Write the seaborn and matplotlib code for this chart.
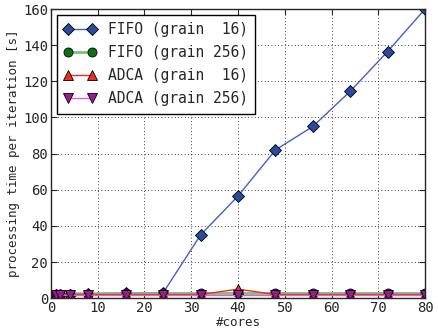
import numpy as np
import pandas as pd
import matplotlib
matplotlib.use("Agg")
import matplotlib.pyplot as plt
import seaborn as sns

cores = [1, 2, 4, 8, 16, 24, 32, 40, 48, 56, 64, 72, 80]
fifo_16 = [2.0, 2.0, 2.0, 2.2, 3.0, 3.0, 35.0, 56.5, 82.0, 95.0, 114.5, 136.5, 160.0]
fifo_256 = [2.5, 2.5, 2.5, 2.5, 2.6, 2.6, 2.6, 2.6, 2.6, 2.6, 2.6, 2.6, 2.6]
adca_16 = [2.0, 2.0, 2.0, 2.0, 2.0, 2.0, 2.0, 5.0, 2.0, 2.0, 2.0, 2.0, 2.0]
adca_256 = [1.8, 1.8, 1.8, 1.8, 1.8, 1.8, 1.8, 1.8, 1.8, 1.8, 1.8, 1.8, 1.8]

series = {
    "FIFO (grain  16)": fifo_16,
    "FIFO (grain 256)": fifo_256,
    "ADCA (grain  16)": adca_16,
    "ADCA (grain 256)": adca_256,
}
rows = []
for name, vals in series.items():
    for c, v in zip(cores, vals):
        rows.append({"cores": c, "time": v, "series": name})
df = pd.DataFrame(rows)

sns.set_style("ticks")
plt.rcParams["font.family"] = ["DejaVu Sans Mono"]
plt.rcParams["xtick.direction"] = "in"
plt.rcParams["ytick.direction"] = "in"

styles = {
    "FIFO (grain  16)": dict(color="#4060c8", marker="D", mfc="#2a4a9c", ms=6.5, lw=1.0),
    "FIFO (grain 256)": dict(color="#80c080", marker="o", mfc="#107010", ms=6.5, lw=2.0),
    "ADCA (grain  16)": dict(color="#e83020", marker="^", mfc="#e83020", ms=7, lw=1.0),
    "ADCA (grain 256)": dict(color="#e060d0", marker="v", mfc="#9a1a9a", ms=7, lw=1.0),
}

fig = plt.figure(figsize=(4.38, 3.35), dpi=100)
ax = fig.add_axes([0.1164, 0.110, 0.854, 0.863])

for name in series:
    st = styles[name]
    sns.lineplot(data=df[df["series"] == name], x="cores", y="time", ax=ax,
                 color=st["color"], marker=st["marker"], markerfacecolor=st["mfc"],
                 markeredgecolor="black", markeredgewidth=0.6, markersize=st["ms"],
                 linewidth=st["lw"], label=name, estimator=None)

ax.set_xlim(0, 80)
ax.set_ylim(0, 160)
ax.set_xticks(range(0, 81, 10))
ax.set_yticks(range(0, 161, 20))
ax.tick_params(labelsize=10, length=4, pad=2, top=True, right=True)
ax.grid(True, color="black", linestyle=(0, (1, 3)), linewidth=0.6)
for s in ax.spines.values():
    s.set_linewidth(1.0)
ax.set_xlabel("#cores", fontsize=9, labelpad=1)
ax.set_ylabel("processing time per iteration [s]", fontsize=9, labelpad=2)
leg = ax.legend(loc="upper left", fontsize=10.5, frameon=True, fancybox=False,
                numpoints=2, handlelength=2.2, borderpad=0.5, labelspacing=0.55,
                borderaxespad=0.4)
leg.get_frame().set_edgecolor("black")
leg.get_frame().set_alpha(1.0)

fig.savefig("out.png", dpi=100)
